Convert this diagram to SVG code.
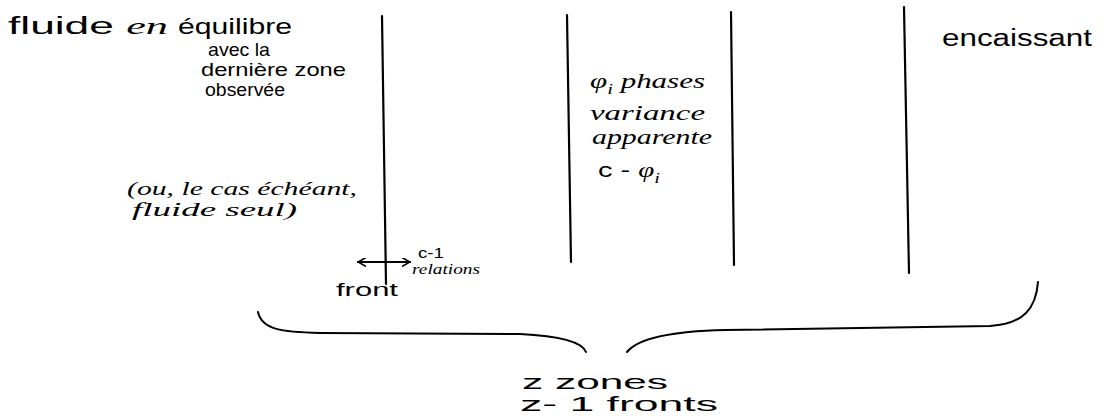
<svg xmlns="http://www.w3.org/2000/svg" width="1112" height="416" viewBox="0 0 1112 416">
<style>
.print{font-family:"Liberation Sans","DejaVu Sans",sans-serif;fill:#000}
.cur{font-family:"Liberation Serif","DejaVu Serif",serif;font-style:italic;fill:#000}
.front{stroke:#000;stroke-width:2.2;fill:none;stroke-linecap:round}
.conn{stroke:#000;stroke-width:2;fill:none;stroke-linecap:round;stroke-linejoin:round}
</style>
<defs>
<marker id="ah" viewBox="0 0 10 10" refX="9" refY="5" markerWidth="9" markerHeight="9" markerUnits="userSpaceOnUse" orient="auto-start-reverse">
<path d="M0,0 L9,5 L0,10" fill="none" stroke="#000" stroke-width="1.8"/>
</marker>
</defs>
<rect width="1112" height="416" fill="#fff"/>
<g id="fronts">
<line class="front" x1="382" y1="16" x2="386" y2="284"/>
<line class="front" x1="567" y1="15" x2="571" y2="262"/>
<line class="front" x1="731" y1="12" x2="734" y2="265"/>
<line class="front" x1="904" y1="7" x2="909" y2="273"/>
</g>
<g id="zone-fluide">
<text class="print" x="8" y="34" font-size="23" textLength="160" lengthAdjust="spacingAndGlyphs">fluide <tspan class="cur">en</tspan></text>
<text class="print" x="178" y="34" font-size="22" textLength="114" lengthAdjust="spacingAndGlyphs">équilibre</text>
<text class="print" x="208" y="56" font-size="19" textLength="62" lengthAdjust="spacingAndGlyphs">avec la</text>
<text class="print" x="201" y="76" font-size="19" textLength="145" lengthAdjust="spacingAndGlyphs">dernière zone</text>
<text class="print" x="205" y="96" font-size="18" textLength="80" lengthAdjust="spacingAndGlyphs">observée</text>
<text class="cur" x="127" y="195" font-size="19" textLength="230" lengthAdjust="spacingAndGlyphs">(ou, le cas échéant,</text>
<text class="cur" x="132" y="216" font-size="19" textLength="165" lengthAdjust="spacingAndGlyphs">fluide seul)</text>
</g>
<g id="front-label">
<text class="print" x="336" y="296" font-size="18" textLength="62" lengthAdjust="spacingAndGlyphs">front</text>
<text class="print" x="418" y="258" font-size="14" textLength="26" lengthAdjust="spacingAndGlyphs">c-1</text>
<text class="cur" x="412" y="274" font-size="15" textLength="68" lengthAdjust="spacingAndGlyphs">relations</text>
</g>
<g id="zone-phases">
<text class="cur" x="590" y="88" font-size="21" textLength="115" lengthAdjust="spacingAndGlyphs">φ<tspan font-size="14" dy="6">i</tspan><tspan dy="-6"> phases</tspan></text>
<text class="cur" x="590" y="120" font-size="21" textLength="115" lengthAdjust="spacingAndGlyphs">variance</text>
<text class="cur" x="592" y="144" font-size="21" textLength="120" lengthAdjust="spacingAndGlyphs">apparente</text>
<text class="print" x="598" y="177" font-size="20" textLength="62" lengthAdjust="spacingAndGlyphs">c - <tspan class="cur">φ</tspan><tspan class="cur" font-size="14" dy="6">i</tspan></text>
</g>
<g id="zone-encaissant">
<text class="print" x="942" y="46" font-size="23" textLength="150" lengthAdjust="spacingAndGlyphs">encaissant</text>
</g>
<g id="summary">
<text class="print" x="522" y="389" font-size="20" textLength="146" lengthAdjust="spacingAndGlyphs">z  zones</text>
<text class="print" x="520" y="411" font-size="20" textLength="198" lengthAdjust="spacingAndGlyphs">z- 1  fronts</text>
</g>
<g id="connectors">
<line class="conn" x1="358" y1="262" x2="410" y2="262" marker-start="url(#ah)" marker-end="url(#ah)"/>
<path class="conn" d="M258,312 C262,330 282,332 320,333 L520,334 C562,336 582,342 586,352"/>
<path class="conn" d="M627,352 C640,336 680,331 725,330 L990,326 C1024,324 1036,308 1038,282"/>
</g>
</svg>
